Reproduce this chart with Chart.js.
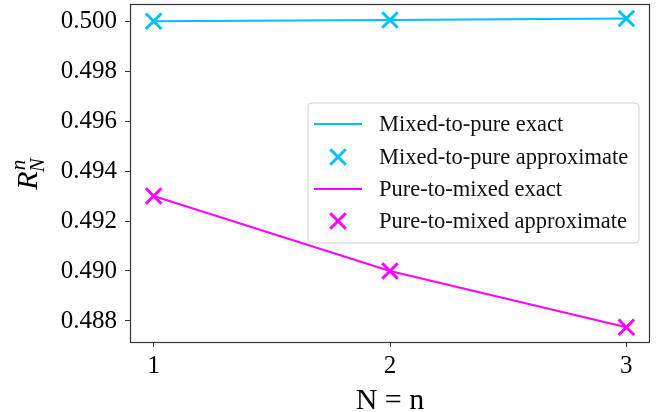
<!DOCTYPE html>
<html>
<head>
<meta charset="utf-8">
<script src="https://cdn.jsdelivr.net/npm/chart.js@4.4.0/dist/chart.umd.min.js"></script>
<style>
  html, body { margin: 0; padding: 0; background: #fff; }
</style>
</head>
<body>
<canvas id="chart" width="660" height="412"></canvas>
<script>
// values
let N = [1, 2, 3]
let mixedToPureExact = [0.49999, 0.50004, 0.50010]
let mixedToPureApprox = [0.49999, 0.50004, 0.50010]
let pureToMixedExact = [0.4930, 0.4900, 0.48775]
let pureToMixedApprox = [0.4930, 0.4900, 0.48775]
let seriesLabels = ['Mixed-to-pure exact', 'Mixed-to-pure approximate',
                    'Pure-to-mixed exact', 'Pure-to-mixed approximate']
let xTicks = [1, 2, 3]
let yTicks = [0.488, 0.490, 0.492, 0.494, 0.496, 0.498, 0.500]

const SERIF = '"Liberation Serif", "Times New Roman", serif'
const CYAN = 'rgb(0, 191, 255)'
const MAGENTA = 'rgb(255, 0, 255)'
const AREA = {left: 130, top: 4, right: 650, bottom: 342}

function pts(ys) {
  return N.map((n, i) => ({x: n, y: ys[i]}))
}

// pin the plot area where the reference has it
const pinArea = {
  id: 'pinArea',
  afterLayout(chart) {
    const ca = chart.chartArea
    ca.left = AREA.left; ca.top = AREA.top
    ca.right = AREA.right; ca.bottom = AREA.bottom
    ca.width = AREA.right - AREA.left
    ca.height = AREA.bottom - AREA.top
    const x = chart.scales.x
    x.left = AREA.left; x.right = AREA.right; x.width = ca.width
    x.top = AREA.bottom; x.bottom = 412; x.height = 412 - AREA.bottom
    x.configure()
    const y = chart.scales.y
    y.top = AREA.top; y.bottom = AREA.bottom; y.height = ca.height
    y.left = 0; y.right = AREA.left; y.width = AREA.left
    y.configure()
  }
}

// frame round the plot, axis titles and the legend box inside the plot
const extras = {
  id: 'extras',
  afterDraw(chart) {
    const ctx = chart.ctx
    const a = chart.chartArea
    ctx.save()
    ctx.strokeStyle = '#333'
    ctx.lineWidth = 1.2
    ctx.strokeRect(a.left + 0.5, a.top + 0.5, a.right - a.left - 1, a.bottom - a.top)

    // x title
    ctx.fillStyle = '#000'
    ctx.font = '30px ' + SERIF
    ctx.textAlign = 'center'
    ctx.textBaseline = 'alphabetic'
    ctx.fillText('N = n', (a.left + a.right) / 2, 409)

    // y title R_N^n, rotated
    ctx.save()
    ctx.translate(37, (a.top + a.bottom) / 2)
    ctx.rotate(-Math.PI / 2)
    ctx.textAlign = 'left'
    ctx.font = 'italic 30px ' + SERIF
    const wR = ctx.measureText('R').width
    ctx.font = 'italic 21px ' + SERIF
    const wS = Math.max(ctx.measureText('N').width, ctx.measureText('n').width)
    const x0 = -(wR + wS + 1) / 2
    ctx.font = 'italic 30px ' + SERIF
    ctx.fillText('R', x0, 0)
    ctx.font = 'italic 21px ' + SERIF
    ctx.fillText('n', x0 + wR + 1, -12)
    ctx.fillText('N', x0 + wR - 1, 7)
    ctx.restore()

    // legend
    const bx = 308, by = 103, bw = 331, bh = 140
    ctx.beginPath()
    ctx.roundRect(bx, by, bw, bh, 4)
    ctx.fillStyle = 'rgba(255,255,255,0.85)'
    ctx.fill()
    ctx.strokeStyle = '#d0d0d0'
    ctx.lineWidth = 1
    ctx.stroke()
    const rowY = [124, 157, 189, 221]
    ctx.font = '22.5px ' + SERIF
    ctx.textAlign = 'left'
    ctx.textBaseline = 'middle'
    chart.data.datasets.forEach((ds, i) => {
      const y = rowY[i]
      ctx.strokeStyle = ds.borderColor
      if (ds.showLine) {
        ctx.lineWidth = 2
        ctx.beginPath()
        ctx.moveTo(314, y)
        ctx.lineTo(362, y)
        ctx.stroke()
      } else {
        ctx.lineWidth = 3
        Chart.helpers.drawPoint(ctx, {pointStyle: 'crossRot', radius: 11, borderWidth: 3, rotation: 0}, 338, y)
      }
      ctx.fillStyle = '#111'
      ctx.fillText(ds.label, 379, y + 1)
    })
    ctx.restore()
  }
}

new Chart(document.getElementById('chart'), {
  type: 'scatter',
  data: {
    datasets: [
      {label: seriesLabels[0], data: pts(mixedToPureExact), showLine: true,
       borderColor: CYAN, borderWidth: 2, pointRadius: 0},
      {label: seriesLabels[1], data: pts(mixedToPureApprox), showLine: false,
       borderColor: CYAN, backgroundColor: CYAN, pointStyle: 'crossRot',
       pointRadius: 11, pointBorderWidth: 3},
      {label: seriesLabels[2], data: pts(pureToMixedExact), showLine: true,
       borderColor: MAGENTA, borderWidth: 2, pointRadius: 0},
      {label: seriesLabels[3], data: pts(pureToMixedApprox), showLine: false,
       borderColor: MAGENTA, backgroundColor: MAGENTA, pointStyle: 'crossRot',
       pointRadius: 11, pointBorderWidth: 3},
    ]
  },
  options: {
    responsive: false,
    animation: false,
    devicePixelRatio: 1,
    clip: false,
    layout: {padding: {top: 4, right: 10, left: 0, bottom: 0}},
    plugins: {legend: {display: false}, tooltip: {enabled: false}},
    scales: {
      x: {
        type: 'linear',
        min: 0.9,
        max: 3.1,
        afterFit: s => { s.height = 70 },
        afterBuildTicks: s => { s.ticks = xTicks.map(v => ({value: v})) },
        border: {display: false},
        grid: {drawOnChartArea: false, drawTicks: true, tickLength: 5, color: '#333'},
        ticks: {color: '#000', padding: 4, font: {family: SERIF, size: 25},
                callback: v => String(v)}
      },
      y: {
        type: 'linear',
        min: 0.48716,
        max: 0.50068,
        afterFit: s => { s.width = 130 },
        afterBuildTicks: s => { s.ticks = yTicks.map(v => ({value: v})) },
        border: {display: false},
        grid: {drawOnChartArea: false, drawTicks: true, tickLength: 5, color: '#333'},
        ticks: {color: '#000', padding: 8, font: {family: SERIF, size: 25},
                callback: v => v.toFixed(3)}
      }
    }
  },
  plugins: [pinArea, extras]
})
</script>
</body>
</html>
